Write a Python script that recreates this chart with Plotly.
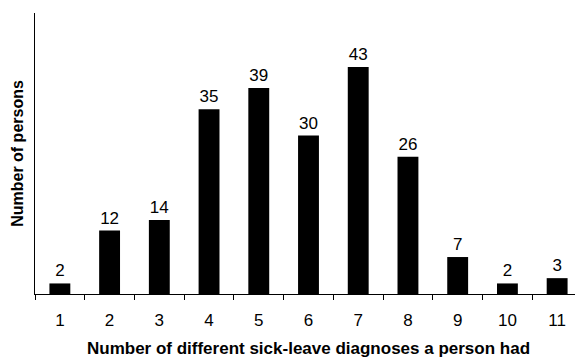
import plotly.graph_objects as go

categories = ["1", "2", "3", "4", "5", "6", "7", "8", "9", "10", "11"]
persons = [2, 12, 14, 35, 39, 30, 43, 26, 7, 2, 3]

# The page body adds an 8px offset; the figure is sized/margined to compensate.
fig = go.Figure(go.Bar(
    x=categories, y=persons,
    marker=dict(color="black", line=dict(width=0)),
    text=[str(v) for v in persons], textposition="outside",
    textfont=dict(family="Liberation Sans, Arial, sans-serif", size=17, color="black"),
    cliponaxis=False,
))

fig.update_layout(
    width=575, height=350,
    margin=dict(l=27, r=1, t=5, b=64),
    paper_bgcolor="white", plot_bgcolor="white",
    bargap=0.58, showlegend=False,
    font=dict(family="Liberation Sans, Arial, sans-serif", color="black"),
)
fig.update_xaxes(
    type="category", tickson="boundaries", ticks="outside", ticklen=5, tickcolor="black",
    showline=True, linecolor="black", linewidth=1, showgrid=False, automargin=False,
    tickfont=dict(size=17), ticklabelstandoff=11,
    title=dict(text="<b>Number of different sick-leave diagnoses a person had</b>", font=dict(size=17), standoff=15),
)
fig.update_yaxes(
    range=[0, 53.2], showline=True, linecolor="black", linewidth=1, automargin=False,
    showgrid=False, showticklabels=False, ticks="", zeroline=False,
    title=dict(text="<b>Number of persons</b>", font=dict(size=16), standoff=6),
)

fig.write_html("out.html")
